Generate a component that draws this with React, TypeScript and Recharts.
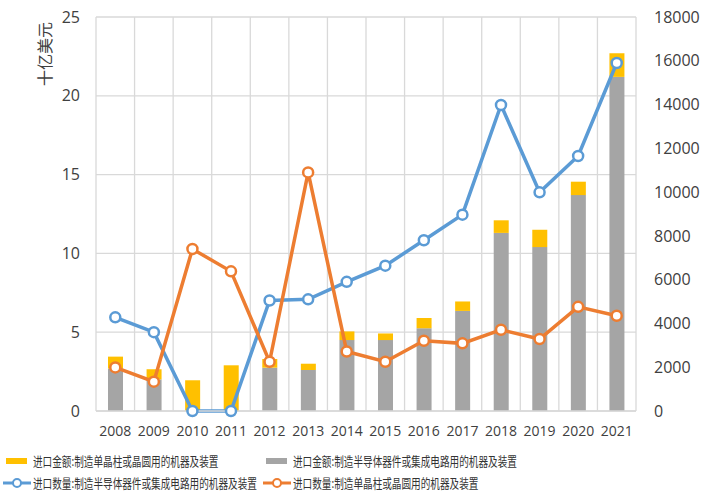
import React from 'react';
import {
  Bar,
  CartesianGrid,
  ComposedChart,
  Label,
  Legend,
  Line,
  XAxis,
  YAxis
} from 'recharts';

const years = ['2008', '2009', '2010', '2011', '2012', '2013', '2014', '2015', '2016', '2017', '2018', '2019', '2020', '2021'];

// 进口金额 (十亿美元)
const valueDevice = [2.7, 2.0, 0, 0, 2.75, 2.6, 4.5, 4.5, 5.25, 6.35, 11.3, 10.4, 13.7, 21.2];
const valueWafer = [0.75, 0.65, 1.95, 2.9, 0.55, 0.4, 0.55, 0.42, 0.65, 0.6, 0.8, 1.1, 0.85, 1.5];

// 进口数量
const qtyDevice = [4280, 3600, 0, 0, 5050, 5100, 5900, 6640, 7800, 8970, 13980, 9990, 11650, 15900];
const qtyWafer = [1990, 1340, 7400, 6380, 2250, 10900, 2720, 2250, 3210, 3090, 3710, 3290, 4760, 4350];

const leftTicks = [0, 5, 10, 15, 20, 25];
const rightTicks = [0, 2000, 4000, 6000, 8000, 10000, 12000, 14000, 16000, 18000];

const labels = {
  valueWafer: '进口金额:制造单晶柱或晶圆用的机器及装置',
  valueDevice: '进口金额:制造半导体器件或集成电路用的机器及装置',
  qtyDevice: '进口数量:制造半导体器件或集成电路用的机器及装置',
  qtyWafer: '进口数量:制造单晶柱或晶圆用的机器及装置'
};

const data = years.map((year, i) => ({
  year,
  valueDevice: valueDevice[i],
  valueWafer: valueWafer[i],
  qtyDevice: qtyDevice[i],
  qtyWafer: qtyWafer[i]
}));

const BLUE = '#5B9BD5';
const ORANGE = '#ED7D31';
const YELLOW = '#FFC000';
const GRAY = '#A5A5A5';
const TEXT = '#404040';
const GRID = '#D9D9D9';
const FONT = '"Open Sans", "Noto Sans", sans-serif';
const CJK = '"Noto Sans CJK SC", sans-serif';

function LegendText({ children, left, top }: { children: string; left: number; top: number }) {
  return (
    <span
      style={{
        position: 'absolute',
        left,
        top,
        fontSize: 13,
        lineHeight: '15px',
        whiteSpace: 'nowrap',
        color: '#333',
        fontFamily: CJK,
        transform: 'scaleX(0.74)',
        transformOrigin: 'left center'
      }}
    >
      {children}
    </span>
  );
}

function BarSwatch({ color, left, top }: { color: string; left: number; top: number }) {
  return <span style={{ position: 'absolute', left, top, width: 21, height: 6, background: color }} />;
}

function LineSwatch({ color, left, top }: { color: string; left: number; top: number }) {
  return (
    <svg style={{ position: 'absolute', left, top }} width={28} height={12}>
      <line x1={0} y1={6} x2={28} y2={6} stroke={color} strokeWidth={3} />
      <circle cx={14} cy={6} r={4} fill="#fff" stroke={color} strokeWidth={2} />
    </svg>
  );
}

function ChartLegend() {
  return (
    <div style={{ position: 'relative', width: 720, height: 58 }}>
      <BarSwatch color={YELLOW} left={6} top={21} />
      <LegendText left={33} top={16}>{labels.valueWafer}</LegendText>
      <BarSwatch color={GRAY} left={266} top={21} />
      <LegendText left={293} top={16}>{labels.valueDevice}</LegendText>
      <LineSwatch color={BLUE} left={3} top={40} />
      <LegendText left={33} top={38}>{labels.qtyDevice}</LegendText>
      <LineSwatch color={ORANGE} left={263} top={40} />
      <LegendText left={293} top={38}>{labels.qtyWafer}</LegendText>
    </div>
  );
}

export default function App() {
  const dot = (color: string) => ({ r: 5, fill: '#fff', stroke: color, strokeWidth: 2.5 });
  return (
    <div style={{ position: 'absolute', left: 0, top: 0, width: 720, height: 495, background: '#fff' }}>
      <ComposedChart width={720} height={495} data={data} margin={{ top: 17, right: 0, bottom: 0, left: 0 }}>
        <CartesianGrid
          stroke={GRID}
          strokeWidth={1.3}
          yAxisId="left"
          verticalCoordinatesGenerator={({ offset }: any) =>
            years.map((_, i) => offset.left + (i * offset.width) / years.length).concat(offset.left + offset.width)
          }
        />
        <XAxis
          dataKey="year"
          height={26}
          tickLine={false}
          tickMargin={9}
          axisLine={{ stroke: GRID, strokeWidth: 1.3 }}
          tick={{ fill: TEXT, fontSize: 14, fontFamily: FONT }}
          interval={0}
        />
        <YAxis
          yAxisId="left"
          width={96}
          domain={[0, 25]}
          ticks={leftTicks}
          axisLine={false}
          tickLine={false}
          tickMargin={10}
          tick={{ fill: TEXT, fontSize: 16, fontFamily: FONT }}
        >
          <Label
            content={({ viewBox }: any) => {
              const x = viewBox.x + 44;
              const y = viewBox.y + 37;
              return (
                <text
                  x={x}
                  y={y}
                  transform={`rotate(-90, ${x}, ${y})`}
                  textAnchor="middle"
                  dominantBaseline="central"
                  fill={TEXT}
                  fontSize={16}
                  fontFamily={CJK}
                >
                  十亿美元
                </text>
              );
            }}
          />
        </YAxis>
        <YAxis
          yAxisId="right"
          orientation="right"
          width={84}
          domain={[0, 18000]}
          ticks={rightTicks}
          axisLine={false}
          tickLine={false}
          tickMargin={12}
          tick={{ fill: TEXT, fontSize: 16, fontFamily: FONT }}
        />
        <Legend verticalAlign="bottom" content={() => <ChartLegend />} />
        <Bar yAxisId="left" dataKey="valueDevice" stackId="v" fill={GRAY} barSize={15} name={labels.valueDevice} isAnimationActive={false} />
        <Bar yAxisId="left" dataKey="valueWafer" stackId="v" fill={YELLOW} barSize={15} name={labels.valueWafer} isAnimationActive={false} />
        <Line
          yAxisId="right"
          type="linear"
          dataKey="qtyDevice"
          stroke={BLUE}
          strokeWidth={3.5}
          dot={dot(BLUE)}
          activeDot={false}
          name={labels.qtyDevice}
          isAnimationActive={false}
        />
        <Line
          yAxisId="right"
          type="linear"
          dataKey="qtyWafer"
          stroke={ORANGE}
          strokeWidth={3.5}
          dot={dot(ORANGE)}
          activeDot={false}
          name={labels.qtyWafer}
          isAnimationActive={false}
        />
      </ComposedChart>
    </div>
  );
}
